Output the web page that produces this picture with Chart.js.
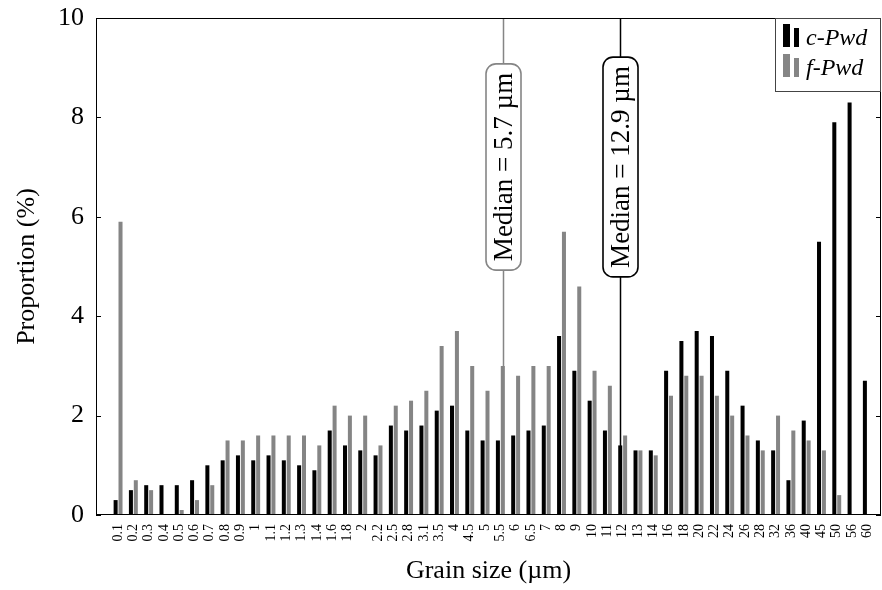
<!DOCTYPE html>
<html>
<head>
<meta charset="utf-8">
<script src="https://cdn.jsdelivr.net/npm/chart.js@4/dist/chart.umd.min.js"></script>
<style>
  html, body { margin: 0; padding: 0; background: #fff; }
  canvas { display: block; }
</style>
</head>
<body>
<canvas id="grainChart" width="882" height="590"></canvas>
<script>
// Grain size classes (µm)
const sizeLabels = ['0.1', '0.2', '0.3', '0.4', '0.5', '0.6', '0.7', '0.8', '0.9', '1',
  '1.1', '1.2', '1.3', '1.4', '1.6', '1.8', '2', '2.2', '2.5', '2.8',
  '3.1', '3.5', '4', '4.5', '5', '5.5', '6', '6.5', '7', '8',
  '9', '10', '11', '12', '13', '14', '16', '18', '20', '22',
  '24', '26', '28', '32', '36', '40', '45', '50', '56', '60'];

// Proportion (%) per class
const cPwd = [0.3, 0.5, 0.6, 0.6, 0.6, 0.7, 1.0, 1.1, 1.2, 1.1,
  1.2, 1.1, 1.0, 0.9, 1.7, 1.4, 1.3, 1.2, 1.8, 1.7,
  1.8, 2.1, 2.2, 1.7, 1.5, 1.5, 1.6, 1.7, 1.8, 3.6,
  2.9, 2.3, 1.7, 1.4, 1.3, 1.3, 2.9, 3.5, 3.7, 3.6,
  2.9, 2.2, 1.5, 1.3, 0.7, 1.9, 5.5, 7.9, 8.3, 2.7];
const fPwd = [5.9, 0.7, 0.5, 0, 0.1, 0.3, 0.6, 1.5, 1.5, 1.6,
  1.6, 1.6, 1.6, 1.4, 2.2, 2.0, 2.0, 1.4, 2.2, 2.3,
  2.5, 3.4, 3.7, 3.0, 2.5, 3.0, 2.8, 3.0, 3.0, 5.7,
  4.6, 2.9, 2.6, 1.6, 1.3, 1.2, 2.4, 2.8, 2.8, 2.4,
  2.0, 1.6, 1.3, 2.0, 1.7, 1.5, 1.3, 0.4, 0, 0];

const seriesNames = ['c-Pwd', 'f-Pwd'];
const yTicks = [0, 2, 4, 6, 8, 10];

// Medians: text and the class whose bar carries the marker line
const medianLabels = ['Median = 12.9 µm', 'Median = 5.7 µm'];
const medianCategory = ['12', '5.5'];
const medianDataset = [0, 1];

const BLACK = '#000000';
const GRAY = '#858585';
const FONT = "'Liberation Serif', 'DejaVu Serif', serif";

// frame, inward ticks, median callouts and the legend box
const decorPlugin = {
  id: 'decor',
  afterDatasetsDraw(chart) {
    const { ctx, chartArea: a, scales: { y } } = chart;
    const colors = [BLACK, GRAY];
    ctx.save();

    // median lines + rounded boxes
    medianLabels.forEach((text, k) => {
      const meta = chart.getDatasetMeta(medianDataset[k]);
      const bar = meta.data[sizeLabels.indexOf(medianCategory[k])];
      const x = Math.round(bar.x) + 0.5;
      const col = colors[medianDataset[k]];
      ctx.strokeStyle = col;
      ctx.lineWidth = 1.5;
      ctx.beginPath();
      ctx.moveTo(x, a.top);
      ctx.lineTo(x, a.bottom);
      ctx.stroke();

      ctx.save();
      ctx.translate(x, a.top + 149);
      ctx.rotate(-Math.PI / 2);
      ctx.font = '27px ' + FONT;
      const w = ctx.measureText(text).width + 18;
      const h = 35;
      ctx.beginPath();
      ctx.roundRect(-w / 2, -h / 2, w, h, 10);
      ctx.fillStyle = '#fff';
      ctx.fill();
      ctx.lineWidth = 1.6;
      ctx.stroke();
      ctx.fillStyle = '#000';
      ctx.textAlign = 'center';
      ctx.textBaseline = 'middle';
      ctx.fillText(text, 0, 1);
      ctx.restore();
    });

    // frame
    ctx.strokeStyle = '#000';
    ctx.lineWidth = 1;
    ctx.strokeRect(a.left + 0.5, a.top + 0.5, a.right - a.left - 1, a.bottom - a.top - 1);
    ctx.beginPath();
    yTicks.forEach(v => {
      const py = Math.round(y.getPixelForValue(v)) + 0.5;
      ctx.moveTo(a.left, py);
      ctx.lineTo(a.left + 5, py);
      ctx.moveTo(a.right - 5, py);
      ctx.lineTo(a.right, py);
    });
    ctx.stroke();

    // legend
    const lx = a.right - 106, ly = a.top;
    ctx.fillStyle = '#fff';
    ctx.fillRect(lx, ly, 106, 73);
    ctx.strokeStyle = '#444';
    ctx.strokeRect(lx + 0.5, ly + 0.5, 105, 73);
    seriesNames.forEach((name, k) => {
      const base = ly + 29 + k * 30;
      ctx.fillStyle = colors[k];
      ctx.fillRect(lx + 8, base - 23, 7, 23);
      ctx.fillRect(lx + 19, base - 19, 5, 19);
      ctx.fillStyle = '#000';
      ctx.font = 'italic 24px ' + FONT;
      ctx.textAlign = 'left';
      ctx.textBaseline = 'alphabetic';
      ctx.fillText(name, lx + 31, base - 2);
    });
    ctx.restore();
  }
};

const ctx = document.getElementById('grainChart').getContext('2d');
const grainChart = new Chart(ctx, {
  type: 'bar',
  data: {
    datasets: [
      { label: seriesNames[0], data: cPwd.map((v, i) => ({ x: i, y: v })), backgroundColor: BLACK },
      { label: seriesNames[1], data: fPwd.map((v, i) => ({ x: i, y: v })), backgroundColor: GRAY }
    ]
  },
  options: {
    responsive: false,
    animation: false,
    devicePixelRatio: 1,
    categoryPercentage: 0.64,
    barPercentage: 0.82,
    layout: { autoPadding: false, padding: { top: 18, right: 1, left: 0, bottom: 0 } },
    plugins: { legend: { display: false }, tooltip: { enabled: false } },
    scales: {
      x: {
        type: 'linear',
        min: -0.93,
        max: 49.38,
        grid: { display: false, drawTicks: false },
        border: { display: false },
        afterBuildTicks: scale => { scale.ticks = sizeLabels.map((_, i) => ({ value: i })); },
        afterFit: scale => {
          scale.height = 75;
          scale.paddingLeft = 0;
          scale.paddingRight = 0;
        },
        ticks: {
          autoSkip: false,
          maxRotation: 90,
          minRotation: 90,
          padding: 9,
          color: '#000',
          font: { family: FONT, size: 14 },
          callback: v => sizeLabels[v]
        },
        title: {
          display: true,
          text: 'Grain size (µm)',
          color: '#000',
          font: { family: FONT, size: 26 },
          padding: { top: 0, bottom: 3 }
        }
      },
      y: {
        min: 0,
        max: 10,
        grid: { display: false, drawTicks: false },
        border: { display: false },
        afterBuildTicks: scale => { scale.ticks = yTicks.map(v => ({ value: v })); },
        afterFit: scale => {
          scale.width = 96;
          scale.paddingTop = 0;
          scale.paddingBottom = 0;
        },
        ticks: {
          padding: 12,
          color: '#000',
          font: { family: FONT, size: 26 }
        },
        title: {
          display: true,
          text: 'Proportion (%)',
          color: '#000',
          font: { family: FONT, size: 26 },
          padding: { top: 12, bottom: 0 }
        }
      }
    }
  },
  plugins: [decorPlugin]
});
</script>
</body>
</html>
